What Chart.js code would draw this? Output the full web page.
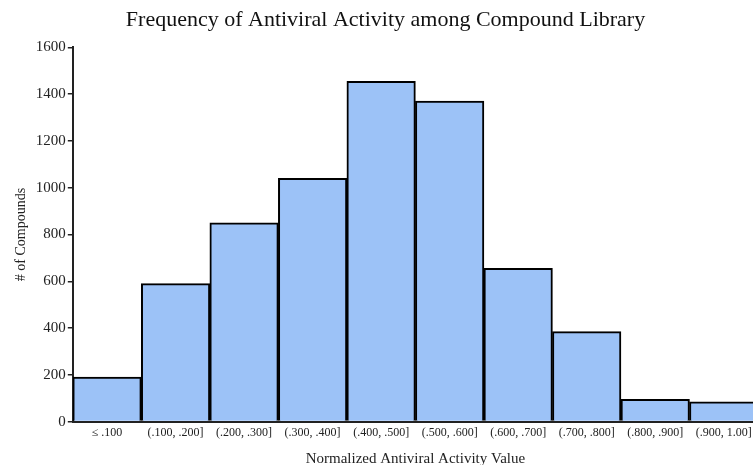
<!DOCTYPE html>
<html>
<head>
<meta charset="utf-8">
<script src="https://cdn.jsdelivr.net/npm/chart.js@4"></script>
<style>
  body { margin: 0; background: #fff; overflow: hidden; }
  #wrap { width: 758px; height: 468px; position: relative; }
</style>
</head>
<body>
<div id="wrap"><canvas id="grafico"></canvas></div>
<script>
// dados
const categorias = ['\u2264 .100', '(.100, .200]', '(.200, .300]', '(.300, .400]', '(.400, .500]',
  '(.500, .600]', '(.600, .700]', '(.700, .800]', '(.800, .900]', '(.900, 1.00]'];
const numCompostos = [190, 590, 850, 1040, 1455, 1370, 655, 385, 95, 85];
const ticksY = [0, 200, 400, 600, 800, 1000, 1200, 1400, 1600];

const fonte = '"Liberation Serif", "DejaVu Serif", serif';

// o canvas é um pouco maior que a janela: a última barra fica cortada como no original
new Chart(document.getElementById('grafico'), {
  type: 'bar',
  data: {
    labels: categorias,
    datasets: [{
      data: numCompostos,
      backgroundColor: '#9cc2f7',
      borderColor: '#000',
      borderWidth: 2,
      barPercentage: 1,
      categoryPercentage: 1
    }]
  },
  options: {
    responsive: true,
    maintainAspectRatio: false,
    animation: false,
    layout: { padding: { left: 13, right: 0, top: 0, bottom: 0 } },
    plugins: {
      legend: { display: false },
      tooltip: { enabled: false },
      title: {
        display: true,
        text: 'Frequency of Antiviral Activity among Compound Library',
        color: '#111',
        font: { family: fonte, size: 22, weight: 'normal' },
        padding: { top: 7, bottom: 14 }
      }
    },
    scales: {
      x: {
        grid: { display: false, drawTicks: false },
        border: { display: true, color: '#222', width: 2 },
        ticks: { color: '#222', font: { family: fonte, size: 12 }, padding: 4, maxRotation: 0, autoSkip: false },
        title: {
          display: true,
          text: 'Normalized Antiviral Activity Value',
          color: '#222',
          font: { family: fonte, size: 15 },
          padding: { top: 6, bottom: 0 }
        }
      },
      y: {
        min: 0,
        max: 1600,
        afterBuildTicks: (axis) => { axis.ticks = ticksY.map(v => ({ value: v })); },
        grid: { drawOnChartArea: false, drawTicks: true, tickLength: 5, color: '#222', lineWidth: 1.5 },
        border: { display: true, color: '#222', width: 2 },
        ticks: { color: '#222', font: { family: fonte, size: 15 }, padding: 2, callback: (v) => String(v) },
        title: {
          display: true,
          text: '# of Compounds',
          color: '#222',
          font: { family: fonte, size: 14 },
          padding: { top: 0, bottom: 4 }
        }
      }
    }
  }
});
</script>
</body>
</html>
